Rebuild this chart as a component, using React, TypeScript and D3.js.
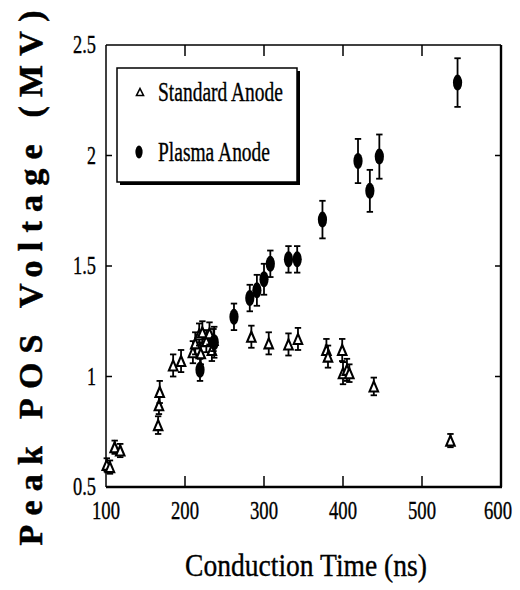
import React from 'react';
import * as d3 from 'd3';

// Standard anode (open triangles)
const stdTime = [101, 105, 111, 118, 166, 167, 168, 185, 195, 210, 213, 218, 220, 222, 227, 231, 234, 236, 284, 306, 331, 343, 379, 381, 399, 400, 405, 408, 439, 536];
const stdVolt = [0.6, 0.59, 0.68, 0.665, 0.78, 0.87, 0.93, 1.05, 1.07, 1.11, 1.15, 1.19, 1.105, 1.2, 1.16, 1.195, 1.12, 1.165, 1.18, 1.15, 1.145, 1.17, 1.12, 1.09, 1.12, 1.015, 1.03, 1.015, 0.955, 0.71];
const stdErr = [0.03, 0.03, 0.03, 0.03, 0.04, 0.04, 0.05, 0.05, 0.05, 0.05, 0.05, 0.05, 0.05, 0.05, 0.05, 0.05, 0.05, 0.05, 0.05, 0.05, 0.05, 0.05, 0.05, 0.05, 0.05, 0.05, 0.05, 0.04, 0.04, 0.03];

// Plasma anode (filled ellipses)
const plasmaTime = [219, 237, 262, 282, 291, 300, 308, 331, 342, 374, 419, 434, 446, 545];
const plasmaVolt = [1.03, 1.155, 1.27, 1.355, 1.39, 1.44, 1.51, 1.53, 1.53, 1.71, 1.975, 1.84, 1.995, 2.33];
const plasmaErr = [0.05, 0.07, 0.06, 0.06, 0.07, 0.07, 0.06, 0.06, 0.06, 0.085, 0.1, 0.095, 0.1, 0.11];

const xTicks = [100, 200, 300, 400, 500, 600];
const yTicks = [0.5, 1, 1.5, 2, 2.5];
const yTickLabels = ['0.5', '1', '1.5', '2', '2.5'];

const FONT = '"Liberation Serif", "DejaVu Serif", serif';

const x = d3.scaleLinear().domain([100, 600]).range([106, 501]);
const y = d3.scaleLinear().domain([0.5, 2.5]).range([487, 45]);

const ErrBar = ({ cx, lo, hi }: { cx: number; lo: number; hi: number }) => (
  <g stroke="#000" strokeWidth={1.8}>
    <line x1={cx} x2={cx} y1={y(lo)} y2={y(hi)} />
    <line x1={cx - 3.2} x2={cx + 3.2} y1={y(lo)} y2={y(lo)} />
    <line x1={cx - 3.2} x2={cx + 3.2} y1={y(hi)} y2={y(hi)} />
  </g>
);

const tri = (cx: number, cy: number, w: number, h: number) =>
  `M${cx},${cy - h / 2}L${cx + w / 2},${cy + h / 2}L${cx - w / 2},${cy + h / 2}Z`;

export default function App() {
  const [x0, x1] = x.range();
  const [y0, y1] = y.range();
  const ink = { stroke: '#000', strokeWidth: 0.35 };
  return (
    <svg width={520} height={590} style={{ position: 'absolute', left: 0, top: 0, background: '#fff' }}>
      {/* frame */}
      <g stroke="#000">
        <line x1={x0} x2={x1} y1={y1} y2={y1} strokeWidth={1.5} />
        <line x1={x0} x2={x0} y1={y1} y2={y0} strokeWidth={1.5} />
        <line x1={x0} x2={x1 + 1} y1={y0} y2={y0} strokeWidth={2.4} />
        <line x1={x1} x2={x1} y1={y1} y2={y0} strokeWidth={2.4} />
      </g>
      {xTicks.slice(1, -1).map(t => (
        <g key={t} stroke="#000" strokeWidth={1.5}>
          <line x1={x(t)} x2={x(t)} y1={y0} y2={y0 - 11} />
          <line x1={x(t)} x2={x(t)} y1={y1} y2={y1 + 11} />
        </g>
      ))}
      {yTicks.slice(1, -1).map(t => (
        <g key={t} stroke="#000" strokeWidth={1.5}>
          <line x1={x0} x2={x0 + 6} y1={y(t)} y2={y(t)} />
          <line x1={x1} x2={x1 - 6} y1={y(t)} y2={y(t)} />
        </g>
      ))}
      {xTicks.map((t, i) => (
        <text key={t} x={x(t) - (i === xTicks.length - 1 ? 3 : 0)} y={519} fontFamily={FONT} fontSize={25} textAnchor="middle"
          textLength={28} lengthAdjust="spacingAndGlyphs" {...ink}>{t}</text>
      ))}
      {yTicks.map((t, i) => (
        <text key={t} x={96} y={y(t) + 8} fontFamily={FONT} fontSize={25} textAnchor="end"
          textLength={yTickLabels[i].length === 1 ? 9 : 23} lengthAdjust="spacingAndGlyphs" {...ink}>{yTickLabels[i]}</text>
      ))}
      <text x={306} y={576} fontFamily={FONT} fontSize={31} textAnchor="middle"
        textLength={242} lengthAdjust="spacingAndGlyphs" {...ink}>Conduction Time (ns)</text>
      <text transform="translate(42,278) rotate(-90)" fontFamily={FONT} fontSize={34} fontWeight="bold"
        textAnchor="middle" textLength={535} lengthAdjust="spacing" stroke="#000" strokeWidth={0.5}>Peak POS Voltage (MV)</text>

      {/* standard anode */}
      {stdTime.map((t, i) => (
        <g key={'s' + i}>
          <ErrBar cx={x(t)} lo={stdVolt[i] - stdErr[i]} hi={stdVolt[i] + stdErr[i]} />
          <path d={tri(x(t), y(stdVolt[i]), 8.5, 10)} fill="#fff" stroke="#000" strokeWidth={2.1} />
        </g>
      ))}
      {/* plasma anode */}
      {plasmaTime.map((t, i) => (
        <g key={'p' + i}>
          <ErrBar cx={x(t)} lo={plasmaVolt[i] - plasmaErr[i]} hi={plasmaVolt[i] + plasmaErr[i]} />
          <ellipse cx={x(t)} cy={y(plasmaVolt[i])} rx={4.6} ry={8} fill="#000" />
        </g>
      ))}

      {/* legend */}
      <rect x={120} y={71} width={180} height={114} fill="#000" />
      <rect x={117} y={68} width={180} height={114} fill="#fff" stroke="#000" strokeWidth={1.5} />
      <path d={tri(140, 92, 7, 7)} fill="#fff" stroke="#000" strokeWidth={1.6} />
      <text x={158} y={101} fontFamily={FONT} fontSize={27} textLength={125} lengthAdjust="spacingAndGlyphs" {...ink}>Standard Anode</text>
      <ellipse cx={139} cy={152} rx={3.6} ry={6.5} fill="#000" />
      <text x={158} y={161} fontFamily={FONT} fontSize={27} textLength={112} lengthAdjust="spacingAndGlyphs" {...ink}>Plasma Anode</text>
    </svg>
  );
}
